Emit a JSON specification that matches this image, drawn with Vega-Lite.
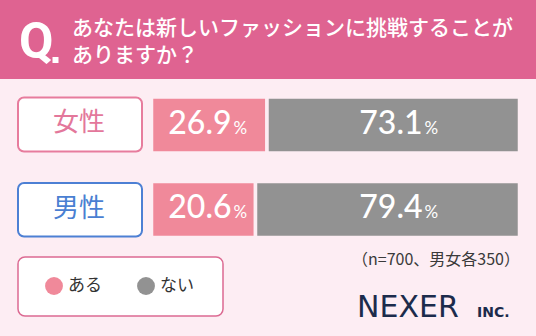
{
  "$schema": "https://vega.github.io/schema/vega-lite/v6.json",
  "width": 536,
  "height": 336,
  "autosize": {"type": "fit", "contains": "padding"},
  "padding": 0,
  "background": "#fdedf3",
  "config": {"view": {"stroke": null}},
  "resolve": {"scale": {"x": "independent", "y": "independent"}},
  "layer": [
    {
      "data": {"values": [{}]},
      "layer": [
        {
          "mark": {"type": "rect", "color": "#df6391"},
          "encoding": {
            "x": {"datum": 0, "type": "quantitative", "scale": {"domain": [0, 536], "nice": false, "zero": false}, "axis": null},
            "x2": {"datum": 536},
            "y": {"datum": 0, "type": "quantitative", "scale": {"domain": [0, 336], "reverse": true, "nice": false, "zero": false}, "axis": null},
            "y2": {"datum": 79}
          }
        },
        {
          "mark": {"type": "text", "text": "Q", "font": "Roboto", "fontWeight": "bold", "fontSize": 50, "color": "white", "align": "left", "baseline": "alphabetic"},
          "encoding": {"x": {"datum": 19, "type": "quantitative"}, "y": {"datum": 58, "type": "quantitative"}}
        },
        {
          "mark": {"type": "square", "filled": true, "size": 36, "color": "white", "opacity": 1},
          "encoding": {"x": {"datum": 55.5, "type": "quantitative"}, "y": {"datum": 60, "type": "quantitative"}}
        },
        {
          "mark": {"type": "text", "text": ["あなたは新しいファッションに挑戦することが", "ありますか？"], "lineHeight": 27, "font": "Noto Sans CJK JP", "fontWeight": 500, "fontSize": 21, "color": "white", "align": "left", "baseline": "alphabetic"},
          "encoding": {"x": {"datum": 72, "type": "quantitative"}, "y": {"datum": 35, "type": "quantitative"}}
        },
        {
          "mark": {"type": "rect", "fill": "white", "stroke": "#e77c9d", "strokeWidth": 2, "cornerRadius": 6},
          "encoding": {"x": {"datum": 18, "type": "quantitative"}, "x2": {"datum": 142}, "y": {"datum": 97.5, "type": "quantitative"}, "y2": {"datum": 151.5}}
        },
        {
          "mark": {"type": "rect", "fill": "white", "stroke": "#4d80d4", "strokeWidth": 2, "cornerRadius": 6},
          "encoding": {"x": {"datum": 18, "type": "quantitative"}, "x2": {"datum": 142}, "y": {"datum": 183, "type": "quantitative"}, "y2": {"datum": 236.5}}
        },
        {
          "mark": {"type": "text", "text": "女性", "font": "Noto Sans CJK JP", "fontSize": 26, "color": "#e3779b", "align": "center", "baseline": "middle"},
          "encoding": {"x": {"datum": 79, "type": "quantitative"}, "y": {"datum": 123, "type": "quantitative"}}
        },
        {
          "mark": {"type": "text", "text": "男性", "font": "Noto Sans CJK JP", "fontSize": 26, "color": "#4a7fd2", "align": "center", "baseline": "middle"},
          "encoding": {"x": {"datum": 79, "type": "quantitative"}, "y": {"datum": 208.5, "type": "quantitative"}}
        },
        {
          "mark": {"type": "rect", "fill": "white", "stroke": "#dc6a92", "strokeWidth": 1.5, "cornerRadius": 7},
          "encoding": {"x": {"datum": 18, "type": "quantitative"}, "x2": {"datum": 223}, "y": {"datum": 257, "type": "quantitative"}, "y2": {"datum": 316}}
        },
        {
          "mark": {"type": "text", "text": "（n=700、男女各350）", "font": "Noto Sans CJK JP", "fontSize": 16, "color": "#3a3a3a", "align": "right", "baseline": "alphabetic"},
          "encoding": {"x": {"datum": 520, "type": "quantitative"}, "y": {"datum": 265, "type": "quantitative"}}
        },
        {
          "mark": {"type": "text", "text": "NEXER", "font": "DejaVu Sans", "fontSize": 30, "color": "#1c2b4b", "align": "left", "baseline": "alphabetic"},
          "encoding": {"x": {"datum": 357, "type": "quantitative"}, "y": {"datum": 317, "type": "quantitative"}}
        },
        {
          "mark": {"type": "text", "text": "INC.", "font": "DejaVu Sans", "fontWeight": "bold", "fontSize": 14, "color": "#1c2b4b", "align": "left", "baseline": "alphabetic"},
          "encoding": {"x": {"datum": 477, "type": "quantitative"}, "y": {"datum": 317, "type": "quantitative"}}
        }
      ]
    },
    {
      "data": {"values": [
        {"gender": "女性", "answer": "ある", "value": 26.9},
        {"gender": "女性", "answer": "ない", "value": 73.1},
        {"gender": "男性", "answer": "ある", "value": 20.6},
        {"gender": "男性", "answer": "ない", "value": 79.4}
      ]},
      "transform": [
        {"stack": "value", "groupby": ["gender"], "sort": [{"field": "answer", "order": "ascending"}], "as": ["v0", "v1"]}
      ],
      "encoding": {
        "y": {"field": "gender", "type": "nominal", "sort": ["女性", "男性"], "scale": {"range": [97, 237.5], "paddingInner": 0.337, "paddingOuter": 0}, "axis": null}
      },
      "layer": [
        {
          "mark": {"type": "bar", "stroke": "#fdedf3", "strokeWidth": 3.5},
          "encoding": {
            "x": {"field": "v0", "type": "quantitative", "scale": {"type": "linear", "domain": [0, 20.6, 26.9, 100], "range": [151.5, 255.5, 267, 519.5], "nice": false, "zero": false}, "axis": null},
            "x2": {"field": "v1"},
            "color": {
              "field": "answer", "type": "nominal",
              "scale": {"domain": ["ある", "ない"], "range": ["#f0899a", "#929292"]},
              "legend": {"orient": "none", "legendX": 45, "legendY": 277, "direction": "horizontal", "title": null, "symbolType": "circle", "symbolSize": 320, "symbolStrokeWidth": 0, "symbolOpacity": 1, "labelFontSize": 17, "labelFont": "Noto Sans CJK JP", "labelColor": "#333333", "labelOffset": 5, "columnPadding": 35}
            }
          }
        },
        {
          "transform": [{"filter": "datum.answer === 'ある'"}],
          "mark": {"type": "text", "font": "Lato", "fontWeight": 500, "fontSize": 32, "color": "white", "align": "right", "baseline": "alphabetic", "dx": 80, "dy": 9},
          "encoding": {"x": {"field": "v0", "type": "quantitative"}, "text": {"field": "value", "type": "quantitative", "format": ".1f"}}
        },
        {
          "transform": [{"filter": "datum.answer === 'ある'"}],
          "mark": {"type": "text", "text": "%", "font": "Lato", "fontSize": 17, "color": "white", "align": "left", "baseline": "alphabetic", "dx": 82, "dy": 9},
          "encoding": {"x": {"field": "v0", "type": "quantitative"}}
        },
        {
          "transform": [{"filter": "datum.answer === 'ない'"}],
          "mark": {"type": "text", "font": "Lato", "fontWeight": 500, "fontSize": 32, "color": "white", "align": "right", "baseline": "alphabetic", "dx": -97, "dy": 9},
          "encoding": {"x": {"field": "v1", "type": "quantitative"}, "text": {"field": "value", "type": "quantitative", "format": ".1f"}}
        },
        {
          "transform": [{"filter": "datum.answer === 'ない'"}],
          "mark": {"type": "text", "text": "%", "font": "Lato", "fontSize": 17, "color": "white", "align": "left", "baseline": "alphabetic", "dx": -95, "dy": 9},
          "encoding": {"x": {"field": "v1", "type": "quantitative"}}
        }
      ]
    }
  ]
}
